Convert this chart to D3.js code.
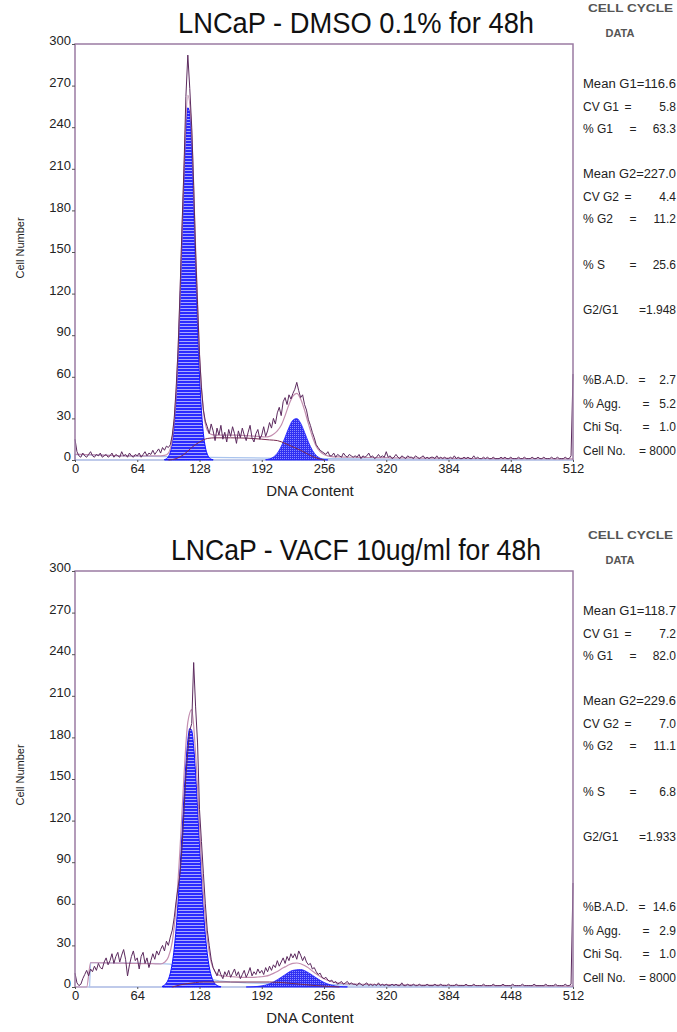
<!DOCTYPE html>
<html><head><meta charset="utf-8">
<script src="https://cdn.jsdelivr.net/npm/d3@7"></script>
<style>
html,body{margin:0;padding:0;background:#fff;}
svg{display:block;}
text{font-family:"Liberation Sans", Arial, sans-serif;}
</style></head><body>
<svg id="chart" width="677" height="1032"></svg>
<script>
// ---------------- DATA ----------------
const DATA_STEP = 2; // measured histograms: channel = index * 2 (0..512)
const FIT_STEP = 4;  // model fits: channel = index * 4 (0..512)
const xTicks = [0, 64, 128, 192, 256, 320, 384, 448, 512];
const yTicks = [0, 30, 60, 90, 120, 150, 180, 210, 240, 270, 300];
const titles = ["LNCaP - DMSO 0.1% for 48h", "LNCaP - VACF 10ug/ml for 48h"];

// DMSO measured histogram
const dmsoData = [
 15,6,3,2,5,3,2,4,6,3,2,4,3,5,2,3,
 4,2,3,5,2,4,3,2,6,3,4,2,5,3,2,4,
 3,5,2,4,6,3,5,4,7,4,6,8,5,9,7,10,
 9,11,18,30,52,80,122,168,210,262,292,268,240,198,150,112,
 76,52,36,28,24,19,26,21,14,23,18,25,15,20,13,22,
 17,24,19,12,21,16,23,18,14,20,25,16,13,19,22,15,
 18,24,17,21,27,23,30,26,34,38,32,42,45,40,47,44,
 48,51,56,50,45,47,40,36,29,25,20,16,11,9,7,6,
 5,4,6,3,3,5,2,4,3,2,5,3,2,4,3,2,
 3,2,4,1,3,2,3,5,2,3,1,2,4,2,3,2,
 6,2,3,1,2,4,2,1,3,2,1,3,2,2,1,3,
 2,1,2,3,1,2,1,2,2,1,3,1,2,1,2,1,
 1,2,1,3,1,2,1,1,2,1,2,1,1,3,1,2,
 1,1,2,1,2,1,1,2,1,1,1,2,1,2,1,1,
 2,1,1,1,2,1,1,2,1,1,1,2,1,1,2,1,
 1,2,1,1,1,2,1,1,2,1,1,1,2,1,1,3,
 62];
// DMSO overall model fit
const dmsoFit = [
 4,4,4,3.9,3.8,3.7,3.6,3.5,3.4,3.3,3.2,3.1,3,3,3,3,
 3,3,3,3,3,3,3,3.3,5,15.5,48.5,118,208,263,236,153,
 76,36,21.5,18.5,18,18,18,18,18,18,17.8,17.7,17.6,17.4,17.2,17,
 16.8,16.6,17,18.5,21,25,32,40,46,48,44,36,26,17,10,6,
 4,3,2.5,2.3,2.2,2.1,2,2,2,1.9,1.9,1.8,1.8,1.8,1.7,1.7,
 1.7,1.6,1.6,1.6,1.5,1.5,1.5,1.5,1.4,1.4,1.4,1.4,1.3,1.3,1.3,1.3,
 1.3,1.2,1.2,1.2,1.2,1.2,1.1,1.1,1.1,1.1,1.1,1,1,1,1,1,
 1,1,1,1,1,0.9,0.9,0.9,0.9,0.9,0.9,0.9,0.8,0.8,0.8,0.8,
 0.8];
const dmsoG1Ch = [92,94,96,98,100,102,104,106,108,110,112,114,116,118,120,122,124,126,128,130,132,134,136,138,140,142];
const dmsoG1 = [0.3,0.9,2.5,5.8,12.5,24.8,44.9,74.5,113.5,158,202,237,254,250,225,185,140,97,61.5,35.7,19,9.3,4.2,1.7,0.6,0.2];
const dmsoG2Ch = [196,200,204,208,212,216,220,224,228,232,236,240,244,248,252,256,260];
const dmsoG2 = [0.2,0.8,2.1,4.9,9.7,16.4,23.5,28.7,29.9,26.5,20,12.9,7.1,3.3,1.3,0.4,0.1];
const dmsoSCh = [96,104,112,120,128,136,144,160,176,192,200,208,216,224,232,240,248,256];
const dmsoS = [0,1,4,9,13,15.5,16,16,15.8,15,14.5,14,12,9.5,7,4,1.5,0];
const dmsoDebrisCh = [0,40,80,120,160,200,260,320,400,512];
const dmsoDebris = [4,3.2,2.6,2.1,1.7,1.4,1.0,0.7,0.4,0.2];

// VACF measured histogram
const vacfData = [
 10,3,1,2,6,9,12,8,13,11,15,12,17,14,13,18,
 21,16,19,24,17,22,25,18,23,27,20,8,16,22,26,19,
 21,13,22,25,17,21,14,19,24,20,26,23,27,30,26,33,
 30,36,41,50,62,72,82,100,126,152,170,185,190,234,202,176,
 128,105,82,60,41,30,20,14,11,8,13,9,6,11,8,12,
 7,10,13,8,11,6,9,12,7,10,14,8,11,9,13,10,
 12,9,14,11,15,12,16,14,19,15,18,21,17,22,19,24,
 21,24,20,26,23,19,22,18,16,17,13,14,11,9,10,7,
 6,7,5,4,5,3,4,2,3,4,2,3,4,2,3,2,
 2,1,3,2,1,2,3,1,2,1,2,1,3,1,2,1,
 2,1,1,2,1,2,1,1,3,1,1,2,1,1,2,1,
 1,2,1,1,1,2,1,1,1,2,1,1,2,1,1,1,
 2,1,1,1,2,1,1,1,1,2,1,1,1,2,1,1,
 1,1,2,1,1,1,1,2,1,1,1,1,2,1,1,1,
 1,2,1,1,1,1,2,1,1,1,1,1,2,1,1,1,
 1,1,2,1,1,1,1,2,1,1,1,1,2,1,1,2,
 75];
// VACF overall model fit
const vacfFit = [
 0,0,0,0,17.5,17.5,17.5,17.4,17.4,17.3,17.3,17.2,17.2,17.1,17.1,17,
 17,16.9,16.9,16.8,16.8,16.7,16.6,17.8,21.6,32.6,57.7,100,152,191,200,168,
 116,67,35,18,11,8.6,8,7.7,7.5,7.3,7.1,7,6.9,6.9,7,7.2,
 7.4,7.8,8.6,9.8,11.2,13,14.5,16,17,17.3,16.8,15.5,13.8,11.5,9.5,7.5,
 6,4.8,3.8,3.2,2.8,2.5,2.3,2.2,2.1,2,2,1.9,1.9,1.8,1.8,1.7,
 1.7,1.7,1.6,1.6,1.6,1.5,1.5,1.5,1.4,1.4,1.4,1.4,1.3,1.3,1.3,1.3,
 1.2,1.2,1.2,1.2,1.1,1.1,1.1,1.1,1.1,1,1,1,1,1,1,1,
 0.9,0.9,0.9,0.9,0.9,0.9,0.8,0.8,0.8,0.8,0.8,0.8,0.8,0.7,0.7,0.7,
 0.7];
const vacfG1Ch = [90,92,94,96,98,100,102,104,106,108,110,112,114,116,118,120,122,124,126,128,130,132,134,136,138,140,142,144,146,148,150];
const vacfG1 = [0.7,1.4,2.9,5.5,10,17.1,27.8,42.7,62,85.5,111,137.6,160.8,177.9,186.4,185,173.6,154.3,130,103.5,78.1,55.7,37.7,24.2,14.6,8.4,4.6,2.3,1.1,0.5,0.2];
const vacfG2Ch = [176,184,192,200,208,216,224,232,240,248,256,264,272,280];
const vacfG2 = [0.05,0.23,0.83,2.3,5.2,8.9,12,12.6,10.3,6.6,3.3,1.3,0.4,0.1];
const vacfSCh = [100,108,116,124,132,160,200,216,232,248,264,272];
const vacfS = [0,1.5,2.5,3.2,3.6,3.6,3.6,3,2,1,0.3,0];
const vacfDebrisCh = [15,16,24,40,56,72,88,98,108,116,124,132,140,148,160,176,200,240,280,320,400,512];
const vacfDebris = [0,17.5,17.5,17.3,17.2,17,16.8,16.5,13,11,9,7,5.5,4.5,3.6,3,2.6,2,1.5,1.2,0.8,0.5];

// Cell cycle statistics
const statLabels = ["Mean G1","CV G1","% G1","Mean G2","CV G2","% G2","% S","G2/G1","%B.A.D.","% Agg.","Chi Sq.","Cell No."];
const dmsoStats = ["116.6","5.8","63.3","227.0","4.4","11.2","25.6","1.948","2.7","5.2","1.0","8000"];
const vacfStats = ["118.7","7.2","82.0","229.6","7.0","11.1","6.8","1.933","14.6","2.9","1.0","8000"];

// ---------------- DRAW ----------------
const svg = d3.select("#chart");
const defs = svg.append("defs");
const p1 = defs.append("pattern").attr("id","g1pat").attr("width",6).attr("height",3).attr("patternUnits","userSpaceOnUse");
p1.append("rect").attr("width",6).attr("height",3).attr("fill","#2a2aff");
p1.append("rect").attr("y",2).attr("width",6).attr("height",1).attr("fill","#a8a8ff");
const p2 = defs.append("pattern").attr("id","g2pat").attr("width",2).attr("height",2).attr("patternUnits","userSpaceOnUse");
p2.append("rect").attr("width",2).attr("height",2).attr("fill","#3030f2");
p2.append("rect").attr("width",1).attr("height",1).attr("fill","#8a8aff");

const L = 75, R = 573, T = 44, B = 460;
const rowY = [84,107,129,174,197,219,265,310,380,404,427,451];
const eqX = {"CV G1":628,"CV G2":628,"% G1":633,"% G2":633,"% S":633,"%B.A.D.":642,"% Agg.":646,"Chi Sq.":646};

const panels = [
 {off:0, title:titles[0], tlen:356, data:dmsoData, fit:dmsoFit, g1c:dmsoG1Ch, g1:dmsoG1, g2c:dmsoG2Ch, g2:dmsoG2, sc:dmsoSCh, s:dmsoS, dc:dmsoDebrisCh, d:dmsoDebris, stats:dmsoStats},
 {off:527, title:titles[1], tlen:370, data:vacfData, fit:vacfFit, g1c:vacfG1Ch, g1:vacfG1, g2c:vacfG2Ch, g2:vacfG2, sc:vacfSCh, s:vacfS, dc:vacfDebrisCh, d:vacfDebris, stats:vacfStats}
];

panels.forEach(p => {
  const g = svg.append("g").attr("transform", `translate(0,${p.off})`);
  const x = d3.scaleLinear().domain([0,512]).range([L,R]);
  const y = d3.scaleLinear().domain([0,300]).range([B,T]);

  const pts = (ch, v) => ch.map((c,i) => [c, v[i]]);
  const hist = (v, step) => v.map((val,i) => [i*step, val]);

  const areaM = d3.area().x(d=>x(d[0])).y0(y(0)).y1(d=>y(d[1])).curve(d3.curveMonotoneX);
  const areaL = d3.area().x(d=>x(d[0])).y0(y(0)).y1(d=>y(d[1]));
  const lineM = d3.line().x(d=>x(d[0])).y(d=>y(d[1])).curve(d3.curveMonotoneX);
  const lineL = d3.line().x(d=>x(d[0])).y(d=>y(d[1]));

  // debris outline
  g.append("path").attr("d", areaL(pts(p.dc,p.d)))
    .attr("fill","none").attr("stroke","#a9c4ee").attr("stroke-width",1.2);
  // baseline
  g.append("line").attr("x1",L).attr("x2",R).attr("y1",y(0)).attr("y2",y(0))
    .attr("stroke","#b8c2e6").attr("stroke-width",1.5);

  // G1 and G2 components
  g.append("path").attr("d", areaM(pts(p.g1c,p.g1))).attr("fill","url(#g1pat)")
    .attr("stroke","#1010ff").attr("stroke-width",1);
  g.append("path").attr("d", areaM(pts(p.g2c,p.g2))).attr("fill","url(#g2pat)")
    .attr("stroke","#2020ff").attr("stroke-width",0.8);
  // S phase
  g.append("path").attr("d", lineM(pts(p.sc,p.s))).attr("fill","none")
    .attr("stroke","#7a2c52").attr("stroke-width",1);
  // fit
  g.append("path").attr("d", lineM(hist(p.fit, FIT_STEP))).attr("fill","none")
    .attr("stroke","#c48fb0").attr("stroke-width",1.2);
  // data
  g.append("path").attr("d", lineL(hist(p.data, DATA_STEP))).attr("fill","none")
    .attr("stroke","#5c2a5e").attr("stroke-width",1);

  // box
  g.append("path").attr("d", `M${L},${B}V${T}H${R}V${B}`).attr("fill","none")
    .attr("stroke","#9b7ba3").attr("stroke-width",1.5);

  // axes
  const ya = g.append("g").attr("transform",`translate(${L},0)`)
    .call(d3.axisLeft(y).tickValues(yTicks).tickSize(3).tickPadding(1));
  ya.select(".domain").remove();
  ya.selectAll("line").attr("stroke","#555");
  ya.selectAll("text").attr("dy","0.05em").style("font-size","13px").attr("fill","#222");

  const xa = g.append("g").attr("transform",`translate(0,${B})`)
    .call(d3.axisBottom(x).tickValues(xTicks).tickSize(2).tickPadding(2));
  xa.select(".domain").remove();
  xa.selectAll("line").attr("stroke","#555");
  xa.selectAll("text").style("font-size","13px").attr("fill","#222");

  g.append("text").attr("x",310).attr("y",496).attr("text-anchor","middle")
    .style("font-size","15px").attr("fill","#222").text("DNA Content");
  g.append("text").attr("transform","translate(24,248) rotate(-90)").attr("text-anchor","middle")
    .style("font-size","11px").attr("fill","#222").text("Cell Number");

  // title
  g.append("text").attr("x",356).attr("y",33).attr("text-anchor","middle")
    .attr("textLength",p.tlen).attr("lengthAdjust","spacingAndGlyphs")
    .style("font-size","30px").attr("fill","#111").text(p.title);

  // stats panel
  g.append("text").attr("x",588).attr("y",12).attr("textLength",85).attr("lengthAdjust","spacingAndGlyphs")
    .style("font-size","11px").style("font-weight","bold").attr("fill","#555").text("CELL  CYCLE");
  g.append("text").attr("x",620).attr("y",37).attr("text-anchor","middle")
    .style("font-size","11px").style("font-weight","bold").attr("fill","#555").text("DATA");

  statLabels.forEach((lab,i) => {
    const yy = rowY[i] + 4;
    const v = p.stats[i];
    if (lab.startsWith("Mean")) {
      g.append("text").attr("x",583).attr("y",yy).attr("textLength",93).attr("lengthAdjust","spacingAndGlyphs")
        .style("font-size","12px").attr("fill","#222").text(lab + "=" + v);
      return;
    }
    g.append("text").attr("x",583).attr("y",yy).style("font-size","12px").attr("fill","#222").text(lab);
    let val = v;
    if (lab === "G2/G1") val = "=" + v;
    else if (lab === "Cell No.") val = "= " + v;
    else g.append("text").attr("x",eqX[lab]).attr("y",yy).attr("text-anchor","middle")
      .style("font-size","12px").attr("fill","#222").text("=");
    g.append("text").attr("x",676).attr("y",yy).attr("text-anchor","end")
      .style("font-size","12px").attr("fill","#222").text(val);
  });
});
</script>
</body></html>
